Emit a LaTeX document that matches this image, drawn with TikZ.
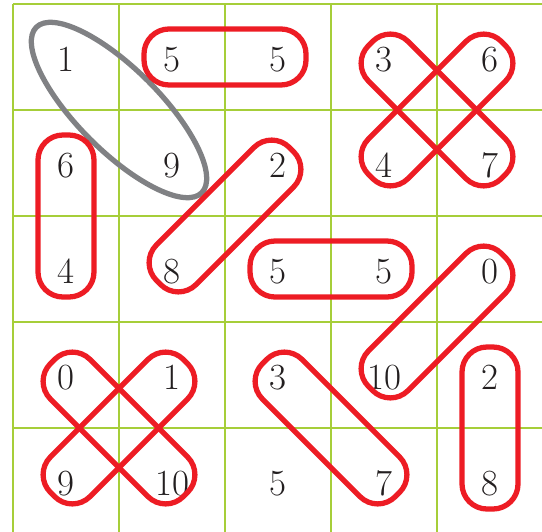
\documentclass[tikz,border=0pt]{standalone}
\usepackage{xcolor}
\usepackage{tikz}
\usetikzlibrary{calc, shapes.geometric}

\definecolor{gridgreen}{RGB}{166,206,57}
\definecolor{loopred}{RGB}{237,28,36}
\definecolor{loopgray}{RGB}{128,129,132}
\definecolor{digitgray}{RGB}{35,31,32}

\begin{document}
\begin{tikzpicture}[
    x=2.12cm, y=-2.12cm,
    gridline/.style={gridgreen, line width=1.6pt},
    digit/.style={font=\fontsize{21}{25}\selectfont, text=digitgray, inner sep=0pt, text height=17pt, text depth=0pt},
    pairloop/.style={draw=loopred, line width=3pt, rounded corners=0.5cm, inner sep=0pt, minimum height=1.12cm},
    flat/.style={pairloop, minimum width=3.24cm},
    slant/.style={pairloop, minimum width=3.76cm},
    oddloop/.style={ellipse, draw=loopgray, line width=3pt, inner sep=0pt, minimum width=4.68cm, minimum height=1.64cm, rotate=-45}
]
\useasboundingbox (-0.1226,-0.0377) rectangle (4.9906,4.9811);

% grid
\foreach \i in {0,...,4} {
  \draw[gridline] (\i,0) -- (\i,5);
  \draw[gridline] (0,\i) -- (5,\i);
}

% numbers, row by row
\foreach \vals [count=\r from 0] in {{1,5,5,3,6},{6,9,2,4,7},{4,8,5,5,0},{0,1,3,10,2},{9,10,5,7,8}}
  \foreach \v [count=\c from 0] in \vals
    \node[digit] (n\r\c) at (\c+0.5,\r+0.5) {\v};

% the odd pair
\node[oddloop] (odd19) at ($(n00)!0.5!(n11)$) {};

% straight pairs
\node[flat] (top55) at ($(n01)!0.5!(n02)$) {};
\node[flat, rotate=90] (left64) at ($(n10)!0.5!(n20)$) {};
\node[flat] (mid55) at ($(n22)!0.5!(n23)$) {};
\node[flat, rotate=90] (right28) at ($(n34)!0.5!(n44)$) {};

% slanted pairs
\node[slant, rotate=-45] (cross37) at ($(n03)!0.5!(n14)$) {};
\node[slant, rotate=45] (cross64) at ($(n04)!0.5!(n13)$) {};
\node[slant, rotate=45] (diag28) at ($(n12)!0.5!(n21)$) {};
\node[slant, rotate=45] (diag010) at ($(n24)!0.5!(n33)$) {};
\node[slant, rotate=-45] (cross010) at ($(n30)!0.5!(n41)$) {};
\node[slant, rotate=45] (cross19) at ($(n31)!0.5!(n40)$) {};
\node[slant, rotate=-45] (diag37) at ($(n32)!0.5!(n43)$) {};

\end{tikzpicture}
\end{document}
